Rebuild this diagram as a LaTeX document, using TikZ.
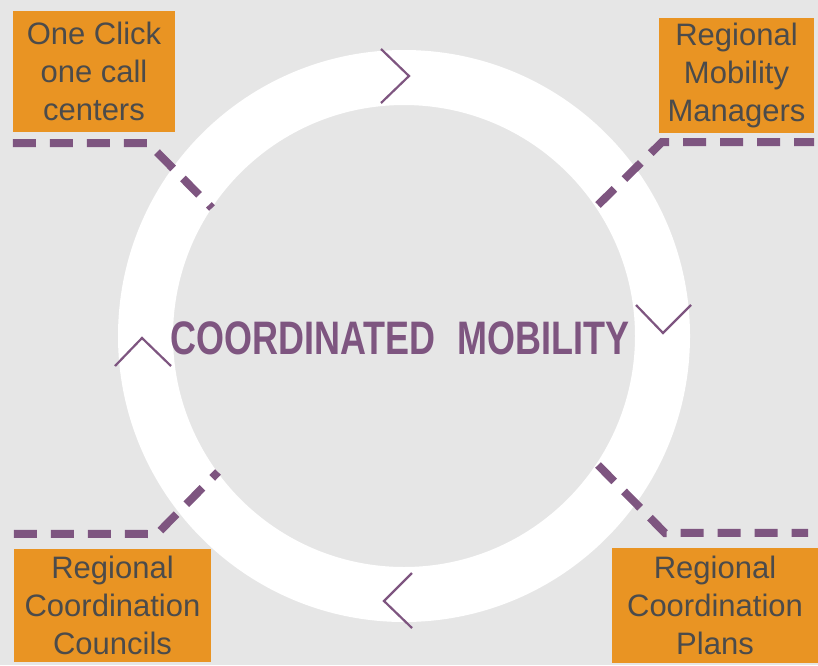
\documentclass[tikz,border=0pt]{standalone}
\usepackage{fontspec}
\setmainfont{Liberation Sans}
\usepackage{xcolor}
\usepackage{tikz}

\definecolor{plum}{HTML}{7E5580}
\definecolor{boxorange}{HTML}{E99423}
\definecolor{labelgray}{HTML}{4B4B4B}
\definecolor{paper}{HTML}{E6E6E6}

\begin{document}
\begin{tikzpicture}[x=1pt, y=-1pt,
    box/.style={fill=boxorange, text=labelgray, align=center, inner sep=0pt,
      font=\fontsize{31}{38}\selectfont},
    link/.style={draw=plum, line width=8pt, dash pattern=on 23pt off 14pt},
    chevron/.style={draw=plum, line width=2.2pt}]
	\fill[paper] (0,0) rectangle (818,665);
	\useasboundingbox (0,0) rectangle (818,665);

	% the cycle
	\coordinate (hub) at (404,336);
	\fill[white, even odd rule] (hub) circle (286pt) (hub) circle (231pt);
	\node[text=plum, inner sep=0pt, font=\bfseries\fontsize{47}{47}\selectfont] (title) at (400,338)
		{\scalebox{0.765}[1]{COORDINATED\hspace*{0.6em}MOBILITY}};

	\draw[chevron] (381,49) -- (409,76) -- (381,103);
	\draw[chevron] (636,305) -- (663,333) -- (691,305);
	\draw[chevron] (412,573) -- (384,601) -- (412,628);
	\draw[chevron] (115,366) -- (142,338) -- (171,366);

	% the four parts
	\node[box, minimum width=162pt, minimum height=121pt] (calls) at (94,71.5) {One Click\\one call\\centers};
	\node[box, minimum width=155pt, minimum height=115pt] (managers) at (736.5,75.5) {Regional\\Mobility\\Managers};
	\node[box, minimum width=197pt, minimum height=113pt] (councils) at (112.5,605.5) {Regional\\Coordination\\Councils};
	\node[box, minimum width=206pt, minimum height=115pt] (plans) at (715,605.5) {Regional\\Coordination\\Plans};

	\coordinate (calls ring) at (212,208);
	\coordinate (managers ring) at (598,205);
	\coordinate (councils ring) at (218,472);
	\coordinate (plans ring) at (598,465);

	\draw[link] ([yshift=-11pt]calls.south west) -- (148,143) -- (calls ring);
	\draw[link] (managers ring) -- (662,142) -- ([yshift=-9pt]managers.south east);
	\draw[link] ([yshift=15pt]councils.north west) -- (157,534) -- (councils ring);
	\draw[link] (plans ring) -- (665,533) -- ([xshift=-10pt,yshift=15pt]plans.north east);
\end{tikzpicture}
\end{document}
